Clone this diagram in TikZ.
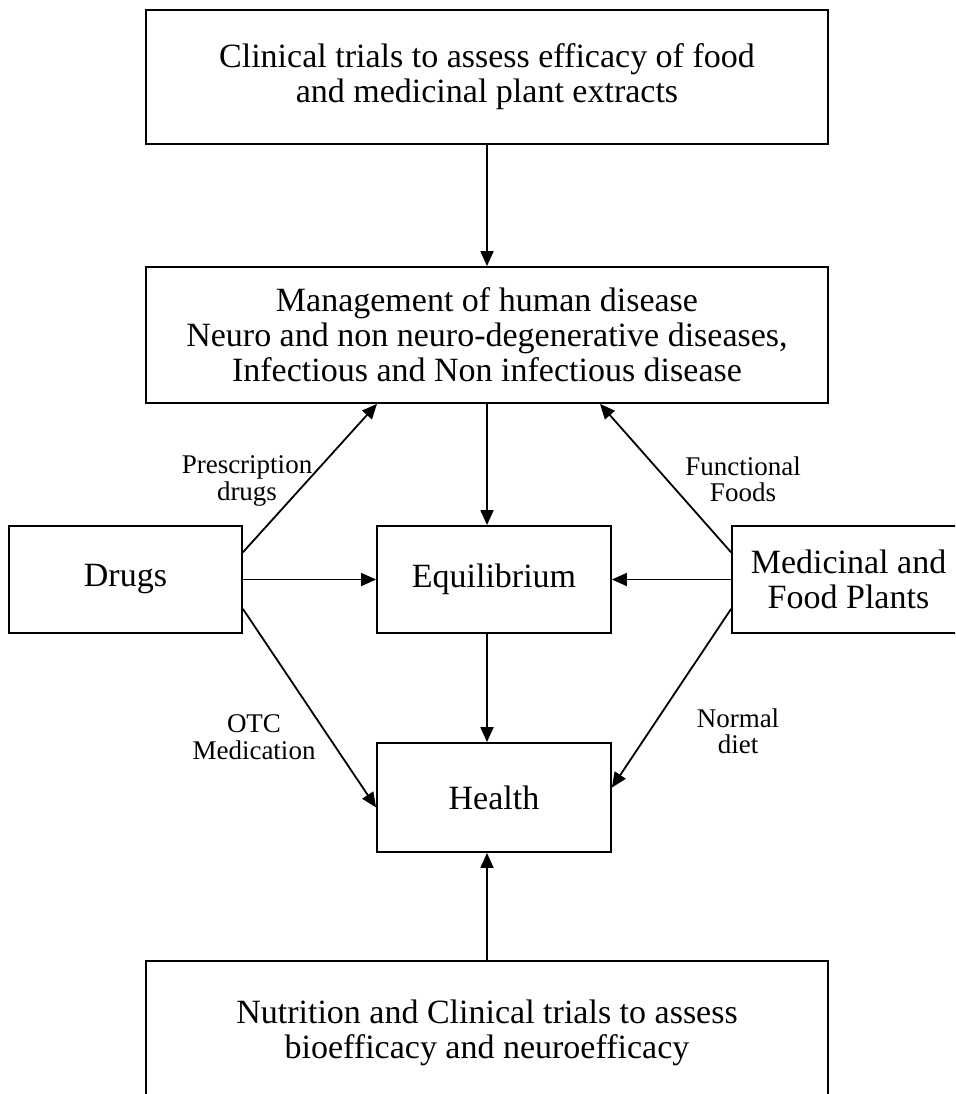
\documentclass[tikz,border=0pt]{standalone}
\usepackage{fontspec}
\setmainfont{Liberation Serif}
\usepackage{tikz}
\usetikzlibrary{arrows.meta,positioning,calc}

\begin{document}
\begin{tikzpicture}[x=0.5pt,y=-0.5pt,
  blk/.style={draw,line width=0.9pt,inner sep=0pt,align=center,
              font=\fontsize{17}{17.5}\selectfont},
  edge/.style={-{Triangle[length=7.5pt,width=6.5pt]},line width=0.9pt},
  lbl/.style={font=\fontsize{13.5}{13.2}\selectfont,align=center}
]
\useasboundingbox (0,0) rectangle (955,1094);
\clip (0,0) rectangle (955,1094);

\node[blk,minimum width=341pt,minimum height=67pt] (trials) at (487,77)
  {Clinical trials to assess efficacy of food\\and medicinal plant extracts};
\node[blk,minimum width=341pt,minimum height=68pt] (manage) at (487,335)
  {Management of human disease\\Neuro and non neuro-degenerative diseases,\\Infectious and Non infectious disease};
\node[blk,minimum width=116.5pt,minimum height=53.5pt] (drugs) at (125.5,579.5) {Drugs};
\node[blk,minimum width=117pt,minimum height=53.5pt] (equil) at (494,579.5) {Equilibrium};
\node[blk,minimum width=116.5pt,minimum height=53.5pt] (plants) at (848.5,579.5) {Medicinal and\\Food Plants};
\node[blk,minimum width=117pt,minimum height=54.5pt] (health) at (494,797.5) {Health};
\node[blk,minimum width=341pt,minimum height=72pt] (nutri) at (487,1033)
  {Nutrition and Clinical trials to assess\\bioefficacy and neuroefficacy};

% vertical chain
\draw[edge] (trials) -- (manage);
\draw[edge] (manage.south) -- (manage.south |- equil.north);
\draw[edge] (manage.south |- equil.south) -- (manage.south |- health.north);
\draw[edge] (nutri.north) -- (nutri.north |- health.south);

% side inputs
\draw[edge] (drugs) -- (equil);
\draw[edge] (plants) -- (equil);
\draw[edge] ($(drugs.north east)!0.25!(drugs.south east)$) -- ($(manage.south)+(-110,0)$);
\draw[edge] ($(drugs.north east)!0.77!(drugs.south east)$) -- ($(health.north west)!0.59!(health.south west)$);
\draw[edge] ($(plants.north west)!0.25!(plants.south west)$) -- ($(manage.south)+(113,0)$);
\draw[edge] ($(plants.north west)!0.77!(plants.south west)$) -- ($(health.north east)!0.41!(health.south east)$);

\node[lbl] (presc) at (247,481) {Prescription\\drugs};
\node[lbl] (func) at (743,479) {Functional\\Foods};
\node[lbl] (otc) at (254,737) {OTC\\Medication};
\node[lbl] (diet) at (738,731) {Normal\\diet};
\end{tikzpicture}
\end{document}
